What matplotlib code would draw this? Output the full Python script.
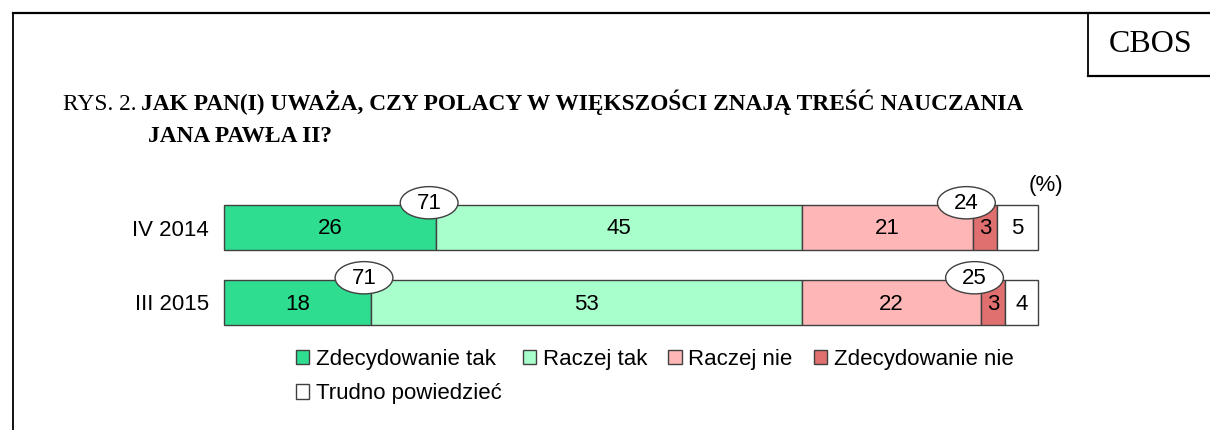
import matplotlib.pyplot as plt
from matplotlib.patches import Ellipse, Patch
from matplotlib.lines import Line2D
import numpy as np

# data
periods = ["IV 2014", "III 2015"]
categories = ["Zdecydowanie tak", "Raczej tak", "Raczej nie", "Zdecydowanie nie", "Trudno powiedzieć"]
zdec_tak = [26, 18]
raczej_tak = [45, 53]
raczej_nie = [21, 22]
zdec_nie = [3, 3]
trudno = [5, 4]
sum_tak = [71, 71]
sum_nie = [24, 25]

colors = ["#2edd8f", "#a8ffcc", "#ffb6b6", "#e07070", "#ffffff"]
edge = "#404040"
sans = "Liberation Sans"
serif = "Liberation Serif"

W, H = 1210, 430
fig = plt.figure(figsize=(W / 100, H / 100), dpi=100)
fig.patch.set_facecolor("white")

def fx(px):
    return px / W

def fy(py):
    return 1 - py / H

# frame lines
fig.add_artist(Line2D([fx(13), 1], [fy(13), fy(13)], color="black", lw=1.6))
fig.add_artist(Line2D([fx(13), fx(13)], [fy(13), 0], color="black", lw=1.3))
fig.add_artist(Line2D([fx(1088), fx(1088)], [fy(13), fy(76)], color="black", lw=1.3))
fig.add_artist(Line2D([fx(1088), 1], [fy(76), fy(76)], color="black", lw=1.6))
fig.text(fx(1151), fy(45), "CBOS", fontsize=23, family=serif, ha="center", va="center")

# title (shared baseline for normal + bold parts)
fig.text(fx(63), fy(110), "RYS. 2.", fontsize=16.8, family=serif, ha="left", va="baseline")
fig.text(fx(141), fy(110), "JAK PAN(I) UWAŻA, CZY POLACY W WIĘKSZOŚCI ZNAJĄ TREŚĆ NAUCZANIA",
         fontsize=16.8, family=serif, fontweight="bold", ha="left", va="baseline")
fig.text(fx(148), fy(142), "JANA PAWŁA II?", fontsize=16.8, family=serif,
         fontweight="bold", ha="left", va="baseline")

# bars
ax = fig.add_axes([fx(224), (H - 340) / H, (1038 - 224) / W, 150 / H])
y = np.arange(len(periods))
series = [zdec_tak, raczej_tak, raczej_nie, zdec_nie, trudno]
left = np.zeros(len(periods))
bounds = []
for vals, col in zip(series, colors):
    vals = np.array(vals, dtype=float)
    bars = ax.barh(y, vals, left=left, height=0.6, color=col, edgecolor=edge, linewidth=1.0)
    for b in bars:
        b.set_clip_on(False)
    for yi, (l, v) in enumerate(zip(left, vals)):
        ax.text(l + v / 2, yi + 0.02, f"{int(v)}", ha="center", va="center", fontsize=16,
                family=sans)
    left = left + vals
    bounds.append(left.copy())

# ellipse labels for sums
for yi in range(len(periods)):
    for xc, val in [(bounds[0][yi], sum_tak[yi]), (bounds[2][yi], sum_nie[yi])]:
        e = Ellipse((xc - 0.8, yi - 0.33), 7.1, 0.43, facecolor="white",
                    edgecolor=edge, linewidth=1.0, zorder=5, clip_on=False)
        ax.add_patch(e)
        ax.text(xc - 0.8, yi - 0.32, f"{val}", ha="center", va="center", fontsize=16,
                family=sans, zorder=6)

ax.set_xlim(0, 100)
ax.set_ylim(1.5, -0.5)
ax.set_yticks(y)
ax.set_yticklabels(periods, fontsize=16, family=sans)
ax.tick_params(axis="y", length=0, pad=11)
ax.set_xticks([])
for s in ax.spines.values():
    s.set_visible(False)

fig.text(fx(1046), fy(185), "(%)", fontsize=16, family=sans, ha="center", va="center")

# legend: first column holds entries 1 and 5
handles = [Patch(facecolor=c, edgecolor=edge, linewidth=1.0) for c in colors]
order = [0, 4, 1, 2, 3]
leg = fig.legend([handles[i] for i in order], [categories[i] for i in order],
                 ncol=4, loc="upper left", bbox_to_anchor=(fx(296), fy(349)),
                 frameon=False, prop={"family": sans, "size": 16},
                 handlelength=0.6, handleheight=0.6, handletextpad=0.3,
                 columnspacing=0.95, labelspacing=0.6, borderpad=0, borderaxespad=0)

fig.savefig("out.png", dpi=100)
